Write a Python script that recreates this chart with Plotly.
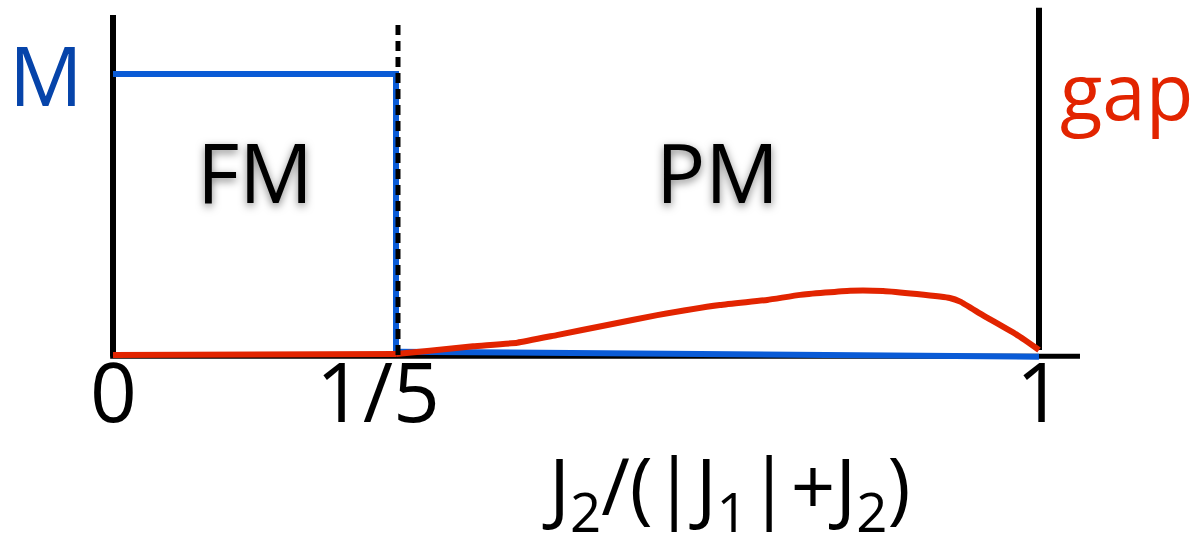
import plotly.graph_objects as go

# Schematic phase diagram along J2/(|J1|+J2): FM for x < 1/5, PM above.
x_crit = 0.2          # FM -> PM transition
x_max = 1.0

# Magnetisation M (normalised to 1 in the FM phase)
m_fm_x = [0.0, 0.2, 0.2]
m_fm_y = [1.0, 1.0, 0.012]
m_pm_x = [0.2, 1.0]
m_pm_y = [0.012, -0.006]

# Spin gap
gap_fm_x = [0.0, 0.1, 0.2]
gap_fm_y = [0.0, 0.002, 0.004]
gap_pm_x = [0.2, 0.242, 0.296, 0.351, 0.400, 0.463, 0.525, 0.603, 0.662, 0.703,
            0.765, 0.806, 0.848, 0.889, 0.902, 0.930, 0.973, 1.0]
gap_pm_y = [0.004, 0.015, 0.031, 0.044, 0.071, 0.107, 0.142, 0.178, 0.196, 0.214,
            0.229, 0.228, 0.217, 0.203, 0.190, 0.142, 0.071, 0.018]

# Tick labels
tick_vals_fm = [0.0, 0.2]
tick_text_fm = ["0", "1/5"]
tick_vals_pm = [1.0]
tick_text_pm = ["1"]

phase_names = ["FM", "PM"]
phase_x = [0.1, 0.6]

BLUE = "#0A5BD6"
BLUE_TXT = "#0644AA"
RED = "#E22400"
FONT = "Open Sans"

W, H = 1199, 533
px0, pxc, px1 = 113, 396, 1039   # pixel columns of x = 0, 1/5, 1
y_rng = [-0.633, 1.263]

# Each panel is padded beyond its data edges so lines sitting on the
# boundaries are not clipped by the subplot area (the panels overlap, so
# their backgrounds are left transparent).
pad_l, pad_r = 12, 55
s1 = (pxc - px0) / (x_crit - 0.0)
s2 = (px1 - pxc) / (x_max - x_crit)
x1_dom = [(px0 - pad_l) / W, (pxc + pad_l) / W]
x1_rng = [0.0 - pad_l / s1, x_crit + pad_l / s1]
x2_dom = [(pxc - pad_l) / W, (px1 + pad_r) / W]
x2_rng = [x_crit - pad_l / s2, x_max + pad_r / s2]

fig = go.Figure()

# magnetisation
fig.add_trace(go.Scatter(x=m_fm_x, y=m_fm_y, xaxis="x", yaxis="y", mode="lines",
                         line=dict(color=BLUE, width=6), hoverinfo="skip"))
fig.add_trace(go.Scatter(x=m_pm_x, y=m_pm_y, xaxis="x2", yaxis="y", mode="lines",
                         line=dict(color=BLUE, width=6), hoverinfo="skip"))
# gap
fig.add_trace(go.Scatter(x=gap_fm_x, y=gap_fm_y, xaxis="x", yaxis="y", mode="lines",
                         line=dict(color=RED, width=6), hoverinfo="skip"))
fig.add_trace(go.Scatter(x=gap_pm_x, y=gap_pm_y, xaxis="x2", yaxis="y", mode="lines",
                         line=dict(color=RED, width=6, shape="spline", smoothing=0.4),
                         hoverinfo="skip"))

shapes = [
    # horizontal axis
    dict(type="line", xref="x", yref="y", x0=-0.002, x1=x_crit, y0=-0.004, y1=-0.004,
         line=dict(color="black", width=5), layer="below"),
    dict(type="line", xref="x2", yref="y", x0=x_crit, x1=1.051, y0=-0.004, y1=-0.004,
         line=dict(color="black", width=5), layer="below"),
    # left and right borders
    dict(type="line", xref="x", yref="y", x0=0.0, x1=0.0, y0=-0.005, y1=1.21,
         line=dict(color="black", width=6), layer="below"),
    dict(type="line", xref="x2", yref="y", x0=x_max, x1=x_max, y0=0.018, y1=1.235,
         line=dict(color="black", width=6), layer="below"),
    # dashed transition line
    dict(type="line", xref="x", yref="y", xsizemode="pixel", xanchor=x_crit,
         x0=2, x1=2, y0=0.0, y1=1.192,
         line=dict(color="black", width=5, dash="10px,6px"), layer="above"),
]


def label(text, x, y, xref, yref, size, color, **extra):
    font = dict(family=FONT, size=size, color=color)
    font.update(extra.pop("font_extra", {}))
    return dict(x=x, y=y, xref=xref, yref=yref, text=text, showarrow=False,
                xanchor="center", yanchor="middle", font=font, **extra)


annotations = []
for v, t in zip(tick_vals_fm, tick_text_fm):
    annotations.append(label(t, v, -0.125, "x", "y", 82, "black",
                             xshift=-18 if t == "1/5" else 0))
for v, t in zip(tick_vals_pm, tick_text_pm):
    annotations.append(label(t, v, -0.125, "x2", "y", 82, "black"))

shadow = "0px 3px 9px rgba(0,0,0,0.5)"
annotations.append(label(phase_names[0], phase_x[0], 0.655, "x", "y", 82, "black",
                         font_extra=dict(shadow=shadow)))
annotations.append(label(phase_names[1], phase_x[1], 0.655, "x2", "y", 82, "black",
                         font_extra=dict(shadow=shadow)))

annotations.append(label("M", 46 / W, 1 - 74 / H, "paper", "paper", 82, BLUE_TXT))
annotations.append(label("gap", 1126 / W, 1 - 90 / H, "paper", "paper", 78, RED))
annotations.append(label("J<sub>2</sub>/(|J<sub>1</sub>|+J<sub>2</sub>)",
                         726 / W, 1 - 490 / H, "paper", "paper", 78, "black",
                         height=84, valign="middle"))

fig.update_layout(
    width=W, height=H,
    margin=dict(l=0, r=0, t=0, b=0),
    paper_bgcolor="white", plot_bgcolor="rgba(0,0,0,0)",
    showlegend=False,
    xaxis=dict(domain=x1_dom, range=x1_rng, visible=False),
    xaxis2=dict(domain=x2_dom, range=x2_rng, visible=False, anchor="y"),
    yaxis=dict(domain=[0, 1], range=y_rng, visible=False),
    shapes=shapes,
    annotations=annotations,
)

fig.write_html("out.html")
